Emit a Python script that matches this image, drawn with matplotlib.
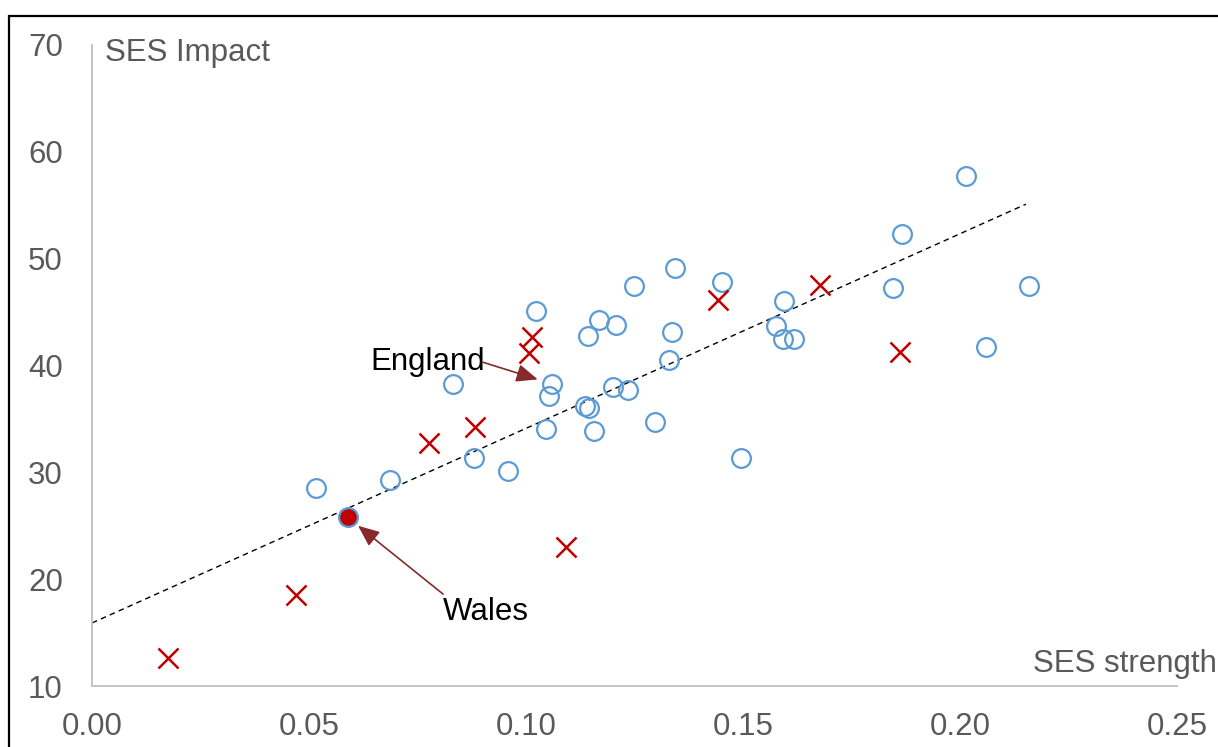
import numpy as np
import matplotlib
matplotlib.use("Agg")
import matplotlib.pyplot as plt
from matplotlib.patches import Rectangle

plt.rcParams['font.family'] = ['Liberation Sans', 'DejaVu Sans']

# --- data ---
circle_x = [0.0516, 0.0687, 0.0832, 0.0880, 0.0959, 0.1023, 0.1046, 0.1053, 0.1060,
            0.1136, 0.1145, 0.1143, 0.1157, 0.1168, 0.1200, 0.1207, 0.1235, 0.1249,
            0.1297, 0.1329, 0.1336, 0.1343, 0.1452, 0.1495, 0.1576, 0.1594, 0.1592,
            0.1618, 0.1846, 0.1866, 0.2014, 0.2060, 0.2159]
circle_y = [28.5, 29.3, 38.3, 31.3, 30.1, 45.1, 34.1, 37.1, 38.3,
            36.2, 36.0, 42.8, 33.9, 44.3, 38.0, 43.8, 37.7, 47.4,
            34.7, 40.5, 43.1, 49.1, 47.8, 31.3, 43.7, 46.0, 42.5,
            42.5, 47.3, 52.3, 57.7, 41.7, 47.4]

cross_x = [0.0175, 0.0470, 0.0776, 0.0882, 0.1014, 0.1007, 0.1092, 0.1442, 0.1677, 0.1862]
cross_y = [12.6, 18.5, 32.7, 34.2, 42.7, 41.2, 23.0, 46.1, 47.5, 41.3]

wales_x, wales_y = 0.0590, 25.8

trend_x = [0.0, 0.2152]
trend_y = [15.9, 55.1]

xticks = [0.00, 0.05, 0.10, 0.15, 0.20, 0.25]
yticks = [10, 20, 30, 40, 50, 60, 70]

blue = '#5B9BD5'
red = '#C00000'
arrow_col = '#862A2A'
grey_txt = '#595959'
fs = 22.5

fig = plt.figure(figsize=(12.18, 7.47), dpi=100)
ax = fig.add_axes([92/1218, 1-686/747, (1177-92)/1218, (686-45)/747])

ax.plot(trend_x, trend_y, color='black', lw=1.0, ls=(0, (4, 3)), zorder=1)
ax.plot(circle_x, circle_y, 'o', ms=13.5, mfc='none', mec=blue, mew=1.6, zorder=2)
ax.plot(cross_x, cross_y, 'x', ms=14.5, color=red, mew=1.8, zorder=3)
ax.plot([wales_x], [wales_y], 'o', ms=13.5, mfc=red, mec=blue, mew=1.6, zorder=4)

# annotations
arrow_style = dict(arrowstyle='-|>,head_length=1.3,head_width=0.55',
                   color=arrow_col, lw=1.2, shrinkA=0, shrinkB=0)
ax.text(0.0774, 40.3, 'England', fontsize=fs, color='black', ha='center', va='center')
ax.annotate('', xy=(0.1027, 38.7), xytext=(0.0901, 40.3), arrowprops=arrow_style)
ax.text(0.0908, 16.9, 'Wales', fontsize=fs, color='black', ha='center', va='center')
ax.annotate('', xy=(0.0613, 25.0), xytext=(0.0809, 18.6), arrowprops=arrow_style)

ax.set_xlim(0, 0.25)
ax.set_ylim(10, 70)
ax.set_xticks(xticks)
ax.set_xticklabels([f"{t:.2f}" for t in xticks])
ax.set_yticks(yticks)
ax.tick_params(axis='both', length=0, labelsize=fs, labelcolor=grey_txt)
ax.tick_params(axis='x', pad=19)
ax.tick_params(axis='y', pad=21)
for s in ['top', 'right']:
    ax.spines[s].set_visible(False)
for s in ['left', 'bottom']:
    ax.spines[s].set_color('#BFBFBF')
    ax.spines[s].set_linewidth(1.3)

fig.text(105/1218, 1-61/747, 'SES Impact', fontsize=fs, color=grey_txt, ha='left', va='baseline')
fig.text(1217/1218, 1-672/747, 'SES strength', fontsize=fs, color=grey_txt, ha='right', va='baseline')

# outer frame (right and bottom edges fall outside the image)
fig.patches.append(Rectangle((9/1218, -0.2), 2, 1.2 - 16/747, transform=fig.transFigure,
                             fill=False, ec='black', lw=1.6, clip_on=False))

fig.savefig('out.png', dpi=100)
